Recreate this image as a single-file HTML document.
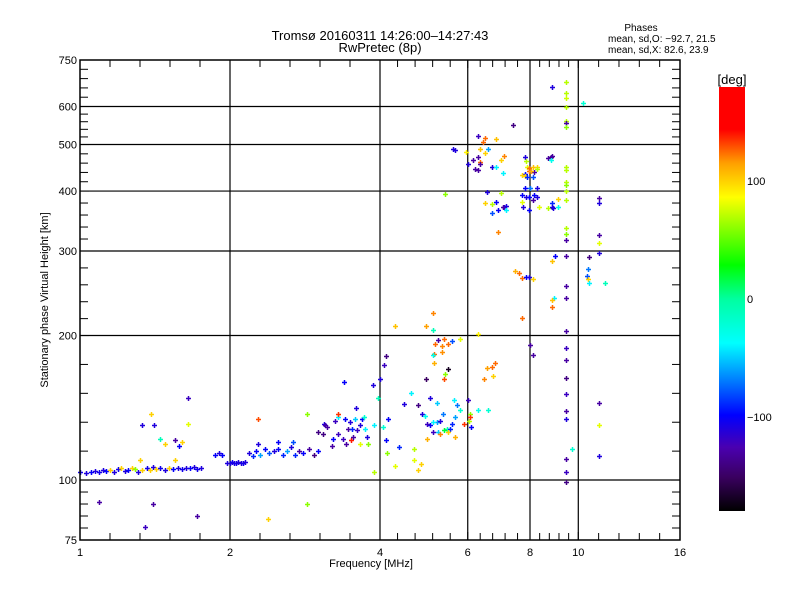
<!DOCTYPE html>
<html><head><meta charset="utf-8"><style>
html,body{margin:0;padding:0;background:#fff;}
svg{display:block;font-family:"Liberation Sans",sans-serif;}
</style></head><body>
<svg id="chart" width="800" height="600" viewBox="0 0 800 600">
<defs>
<linearGradient id="cbg" x1="0" y1="1" x2="0" y2="0">
<stop offset="0" stop-color="#000000"/>
<stop offset="0.08" stop-color="#3a0060"/>
<stop offset="0.15" stop-color="#4a00b0"/>
<stop offset="0.226" stop-color="#0000ff"/>
<stop offset="0.31" stop-color="#0080ff"/>
<stop offset="0.396" stop-color="#00ffff"/>
<stop offset="0.5" stop-color="#00ffa0"/>
<stop offset="0.58" stop-color="#00ff00"/>
<stop offset="0.74" stop-color="#ffff00"/>
<stop offset="0.82" stop-color="#ffa000"/>
<stop offset="0.9" stop-color="#ff0000"/>
<stop offset="1" stop-color="#ff0000"/>
</linearGradient>
</defs>
<text x="380" y="40" font-size="13" text-anchor="middle">Tromsø 20160311 14:26:00–14:27:43</text>
<text x="380" y="52" font-size="13" text-anchor="middle">RwPretec (8p)</text>
<g font-size="10">
<text x="641" y="31" text-anchor="middle">Phases</text>
<text x="608" y="42">mean, sd,O: −92.7, 21.5</text>
<text x="608" y="53">mean, sd,X:  82.6, 23.9</text>
</g>
<g id="grid"></g>
<g id="points"></g>
<g id="axes"></g>
<text transform="translate(48,300) rotate(-90)" font-size="11" text-anchor="middle">Stationary phase Virtual Height [km]</text>
<text x="371" y="567" font-size="11" text-anchor="middle">Frequency [MHz]</text>
<rect x="719" y="87" width="26" height="424" fill="url(#cbg)"/>
<text x="732" y="84" font-size="13" text-anchor="middle">[deg]</text>
<g id="cbticks" font-size="11"></g>
</svg>
<script>
const xTicks=[1,2,4,6,8,10,16];
const yTicks=[75,100,200,300,400,500,600,750];
const xGrid=[2,4,6,8,10];
const yGrid=[100,200,300,400,500,600];
const cbTicks=[100,0,-100];
const freq=[1.0,1.03,1.05,1.07,1.09,1.11,1.13,1.15,1.17,1.19,1.21,1.23,1.25,1.27,1.29,1.31,1.33,1.36,1.38,1.40,1.42,1.45,1.48,1.51,1.54,1.57,1.60,1.63,1.66,1.69,1.72,1.75,
1.32,1.55,1.45,1.48,1.55,1.58,1.60,1.33,1.41,1.39,1.65,1.65,
1.09,1.40,1.35,1.72,2.38,2.85,
1.97,2.0,2.02,2.04,2.06,2.08,2.10,2.12,2.14,1.87,1.90,1.93,
2.18,2.22,2.26,2.3,2.35,2.4,2.45,2.5,2.55,2.6,2.65,2.7,2.75,2.8,2.88,2.95,3.0,2.28,2.5,2.68,2.28,2.85,
3.09,3.25,3.29,3.4,3.45,3.48,3.51,3.56,3.6,3.65,3.68,3.73,3.76,3.37,3.22,3.3,3.5,3.65,3.79,3.2,3.3,3.42,3.53,3.58,3.71,3.07,3.13,3.39,3.87,3.89,3.0,3.1,
4.85,5.04,5.2,5.35,5.58,5.71,5.79,4.93,4.97,5.12,5.28,5.44,5.53,5.66,5.1,5.23,5.38,5.48,5.66,5.04,5.2,5.64,4.62,4.77,4.97,5.28,4.67,4.83,4.77,4.37,4.12,4.05,4.16,3.96,4.0,4.07,4.12,4.47,4.14,4.29,4.68,3.89,
5.12,4.95,5.11,5.38,5.15,5.33,5.48,5.58,5.24,5.13,5.33,5.1,5.13,5.48,5.41,5.38,5.79,4.29,4.95,6.3,6.55,6.7,6.8,6.75,6.47,6.0,5.9,6.1,6.3,6.6,6.03,6.05,6.05,
6.3,6.5,6.85,7.4,8.85,9.45,9.45,9.45,9.45,10.2,9.45,9.45,9.45,5.6,5.65,5.95,6.45,6.35,6.6,6.5,7.1,7.0,6.15,6.3,6.35,6.35,6.0,6.2,6.3,6.7,6.85,7.05,
7.8,7.85,7.9,7.95,8.1,8.25,8.25,8.15,7.8,7.7,7.8,7.95,8.05,7.9,8.1,7.8,8.0,8.25,8.7,8.8,8.85,8.8,9.45,9.45,9.45,9.45,9.45,9.45,5.4,6.55,7.0,7.7,7.85,7.95,8.15,8.25,8.1,7.7,6.5,6.7,6.85,7.1,7.05,7.15,6.9,7.15,7.75,7.95,8.35,8.7,8.85,8.85,8.9,9.1,6.7,9.1,11.0,11.0,
9.45,9.45,9.45,11.0,11.0,11.0,9.45,9.0,8.85,10.5,10.45,10.4,10.45,10.5,11.3,7.45,7.7,7.85,7.95,8.1,9.45,9.45,8.95,8.85,8.85,6.9,
9.45,9.45,9.45,9.45,9.45,9.45,9.45,9.45,9.45,9.45,11.0,11.0,11.0,9.7,8.0,8.1,7.7,7.6];
const height=[104,103.5,104,104.5,104,105,104.5,105,104,105.5,106,104.5,105,106,105.5,104,105,106,105,106.5,105.5,106,105,106,105.5,106,105.5,106,106,106.5,105.5,106,
110,110,122,119,121,118,120,130,130,137,131,148,
90,89,80,84,83,89,
108.5,108.5,109,108.5,108.5,109,108.5,108.5,109,113,114,113,
114,112,115,113,116,114,115,116,113,115,117,113,115,114,116,113,115,119,120,120,134,137,
131,133,135,134,128,132,128,134,127,130,134,128,123,122,122,137,121,119,119,118,125,119,123,141,135,125,129,160,158,130,126,130,
137,130,132,137,131,143,140,136,131,132,133,128,128,135,126,126,127,126,123,148,145,147,152,143,122,125,116,108,105,117,121,129,134,148,162,174,181,144,114,107,110,104,
223,209,205,197,192,190,192,195,196,183,185,182,175,170,166,162,197,209,162,201,171,172,175,165,162,147,131,129,140,140,133,137,135,
520,515,513,550,660,675,640,625,600,610,560,555,545,490,488,483,505,490,490,480,474,465,465,472,460,455,456,445,442,448,448,436,
470,463,448,446,448,448,444,438,435,432,430,440,440,427,427,405,405,405,468,470,473,464,448,442,418,412,400,384,394,398,397,392,389,388,392,388,383,379,377,376,380,370,370,373,366,366,371,366,370,368,377,370,368,370,360,385,386,377,
335,325,316,324,312,297,293,293,286,291,275,266,262,257,257,273,264,265,265,262,254,239,240,237,229,329,
204,188,178,163,151,139,134,110.6,104,99,145,130,112,116,191,182,218,270];
const phase=[-105,-110,-100,-110,-105,-110,-100,100,-110,-105,100,-110,-100,100,60,-110,100,-105,100,-110,100,-105,-110,100,-100,-110,-105,-110,-100,-110,-105,-110,
100,100,-10,100,-130,-100,100,-110,-110,100,80,-120,
-130,-130,-120,-130,100,60,
-110,-110,-105,-110,-105,-110,-110,-105,-110,-100,-110,-100,
-110,-90,-100,-60,-100,-80,-110,-100,-90,-60,-110,-90,-130,-100,-130,-140,-100,-110,-100,-80,130,60,
-110,-120,-40,-100,-130,-110,-90,-50,-120,-110,-100,-40,-110,-120,-100,135,140,80,60,-130,-120,-130,-130,-110,-20,-140,-130,-100,-110,-40,-140,-130,
-110,-100,-60,-70,-90,-70,-20,-30,-120,-40,-110,-10,-90,-60,-120,-50,20,100,110,-110,-50,-40,-40,-140,110,120,70,100,100,-90,-100,-20,-100,-10,-110,-120,-140,-110,60,80,80,70,
120,115,-10,125,125,120,125,-80,-130,125,118,-30,110,-170,60,130,80,105,-150,90,115,125,125,100,120,-120,135,-100,-30,-20,70,60,135,
-120,125,105,-140,-110,70,70,75,70,-20,70,-130,60,-110,-110,90,125,105,-60,100,120,100,-130,-130,125,-130,-110,-130,-130,-110,-40,-40,
-110,70,80,125,105,100,70,-130,-100,100,100,125,110,-90,-80,-100,-70,-110,-130,-140,-130,-30,70,70,70,60,70,70,60,-110,70,-100,-110,-100,-100,-110,-130,80,100,70,-100,-110,-130,-110,-100,-40,-110,-100,80,70,-90,-110,-110,-30,-80,100,-130,-110,
70,60,-130,-130,80,-110,-130,-100,105,-140,-70,-80,100,-40,-10,110,125,-100,-110,100,-130,-130,-40,105,125,120,
-130,-120,-130,-140,-120,-130,-110,-130,-120,-140,-130,80,-110,-20,-130,-130,125,125];

const X0=80,X1=680,Y0=60,Y1=540;
function xs(f){return X0+(X1-X0)*Math.log2(f)/4;}
function ys(h){return Y1-(Y1-Y0)*Math.log10(h/75)/Math.log10(10);}
const NS='http://www.w3.org/2000/svg';
function mk(tag,attrs,parent){const e=document.createElementNS(NS,tag);for(const k in attrs)e.setAttribute(k,attrs[k]);parent.appendChild(e);return e;}
const stops=[[-180,0,0,0],[-151,58,0,96],[-126,74,0,176],[-98.6,0,0,255],[-68,0,128,255],[-37,0,255,255],[0,0,255,160],[29,0,255,0],[86,255,255,0],[115,255,160,0],[144,255,0,0],[180,255,0,0]];
function pcol(p){for(let i=1;i<stops.length;i++){if(p<=stops[i][0]){const a=stops[i-1],b=stops[i];const t=(p-a[0])/(b[0]-a[0]);return 'rgb('+[1,2,3].map(j=>Math.round(a[j]+(b[j]-a[j])*t)).join(',')+')';}}return 'rgb(255,0,0)';}

const grid=document.getElementById('grid');
xGrid.forEach(v=>{const l=mk('line',{x1:xs(v),x2:xs(v),y1:Y0,y2:Y1,stroke:'#000','stroke-width':1.2},grid);

});
yGrid.forEach(v=>{const l=mk('line',{x1:X0,x2:X1,y1:ys(v),y2:ys(v),stroke:'#000','stroke-width':1.2},grid);

});

const pts=document.getElementById('points');
for(let i=0;i<freq.length;i++){
 const x=Math.round(xs(freq[i]))+0.5,y=Math.round(ys(height[i]))+0.5;
 const p=mk('path',{d:`M${x-2.5} ${y}H${x+2.5}M${x} ${y-2.5}V${y+2.5}`,stroke:pcol(phase[i]),'stroke-width':1.5,fill:'none'},pts);
 
 
}

const ax=document.getElementById('axes');
const fr=mk('rect',{x:X0,y:Y0,width:X1-X0,height:Y1-Y0,fill:'none',stroke:'#000','stroke-width':1.5},ax);


for(let i=0;i<xTicks.length;i++){
 const x=xs(xTicks[i]);
 const t=mk('text',{x:x,y:Y1+16,'font-size':11,'text-anchor':'middle'},ax);t.textContent=xTicks[i];
 
 
 mk('line',{x1:x,x2:x,y1:Y1,y2:Y1-8,stroke:'#000'},ax);mk('line',{x1:x,x2:x,y1:Y0,y2:Y0+8,stroke:'#000'},ax);
 if(i<xTicks.length-1){const xn=xs(xTicks[i+1]);for(let k=1;k<5;k++){const xm=x+(xn-x)*k/5;
  mk('line',{x1:xm,x2:xm,y1:Y1,y2:Y1-7,stroke:'#000'},ax);mk('line',{x1:xm,x2:xm,y1:Y0,y2:Y0+7,stroke:'#000'},ax);}}
}
for(let i=0;i<yTicks.length;i++){
 const y=ys(yTicks[i]);
 const t=mk('text',{x:X0-3,y:y+4,'font-size':11,'text-anchor':'end'},ax);t.textContent=yTicks[i];
 
 
 mk('line',{x1:X0,x2:X0+9,y1:y,y2:y,stroke:'#000'},ax);mk('line',{x1:X1,x2:X1-9,y1:y,y2:y,stroke:'#000'},ax);
 if(i<yTicks.length-1){const yn=ys(yTicks[i+1]);for(let k=1;k<5;k++){const ym=y+(yn-y)*k/5;
  mk('line',{x1:X0,x2:X0+8,y1:ym,y2:ym,stroke:'#000'},ax);mk('line',{x1:X1,x2:X1-8,y1:ym,y2:ym,stroke:'#000'},ax);}}
}
const cb=document.getElementById('cbticks');
cbTicks.forEach(v=>{const y=87+424*(180-v)/360;const t=mk('text',{x:747,y:y+4,'font-size':11},cb);t.textContent=v===-100?'−100':String(v);
 
 });
</script>
</body></html>
